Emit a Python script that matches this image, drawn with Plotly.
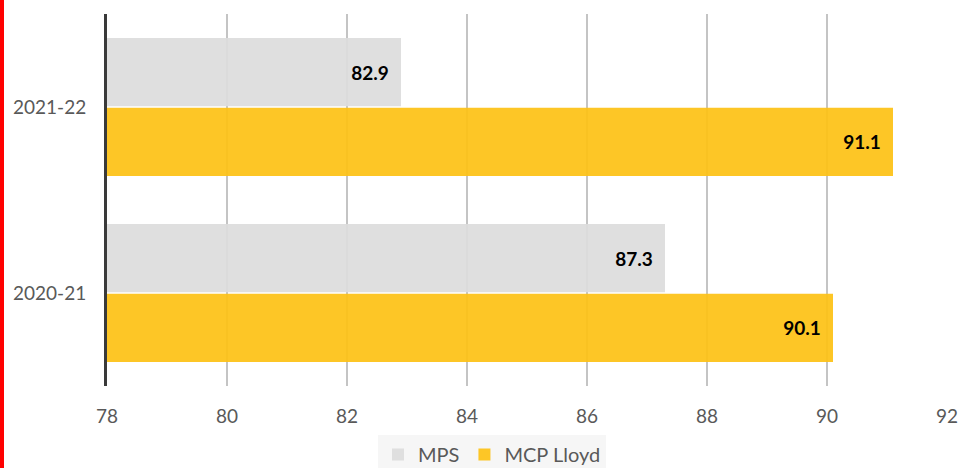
import plotly.graph_objects as go

years = ["2020-21", "2021-22"]
mps = [87.3, 82.9]
mcp_lloyd = [90.1, 91.1]

fig = go.Figure()

# horizontal grouped bars: first trace sits at the bottom of each group
fig.add_trace(go.Bar(
    y=years, x=mcp_lloyd, name="MCP Lloyd", orientation="h",
    marker=dict(color="rgba(253,193,20,0.92)", line=dict(width=0)),
    texttemplate="%{x:.1f}\u00a0\u00a0", textposition="inside",
    insidetextanchor="end",
    textfont=dict(family="Lato", size=19, color="#000000", weight="bold"),
    legendrank=2,
))
fig.add_trace(go.Bar(
    y=years, x=mps, name="MPS", orientation="h",
    marker=dict(color="rgba(220,220,220,0.92)", line=dict(width=0)),
    texttemplate="%{x:.1f}\u00a0\u00a0", textposition="inside",
    insidetextanchor="end",
    textfont=dict(family="Lato", size=19, color="#000000", weight="bold"),
    legendrank=1,
))

# figure is a bit taller than the window; legend box runs off the bottom edge
W, H = 973, 490
ml, mr, mt = 107, 26, 14
plot_bottom = 386
mb = H - plot_bottom
pw, ph = W - ml - mr, plot_bottom - mt

fig.update_layout(
    width=W, height=H,
    margin=dict(l=ml, r=mr, t=mt, b=mb),
    barmode="group", bargap=0.25, bargroupgap=0.02,
    plot_bgcolor="white", paper_bgcolor="white",
    font=dict(family="Lato", size=19, color="#595959"),
    xaxis=dict(
        range=[78, 92], dtick=2, showgrid=True, gridcolor="#c4c4c4", gridwidth=1.5,
        zeroline=False, showline=False, ticklabelstandoff=17,
        tickfont=dict(size=19, color="#595959"),
    ),
    yaxis=dict(
        type="category", categoryorder="array", categoryarray=years,
        range=[-0.5, 1.5], showgrid=False, zeroline=False,
        showline=True, linecolor="#3a3a3a", linewidth=3,
        ticklabelstandoff=14, tickfont=dict(size=19, color="#595959"),
    ),
    legend=dict(
        orientation="h", x=(492 - ml) / pw, xanchor="center",
        y=-(435 - plot_bottom) / ph, yanchor="top",
        bgcolor="#f6f6f6", font=dict(size=20, color="#595959"),
        traceorder="normal",
    ),
    showlegend=True,
    shapes=[dict(
        type="rect", xref="paper", yref="paper",
        x0=-ml / pw, x1=(4 - ml) / pw, y0=-mb / ph, y1=(ph + mt) / ph,
        fillcolor="#ff0000", line=dict(width=0), layer="above",
    )],
)

fig.write_html(
    "out.html",
    config={"displayModeBar": False},
    post_script="document.body.style.margin='0'; document.body.style.overflow='hidden';",
)
